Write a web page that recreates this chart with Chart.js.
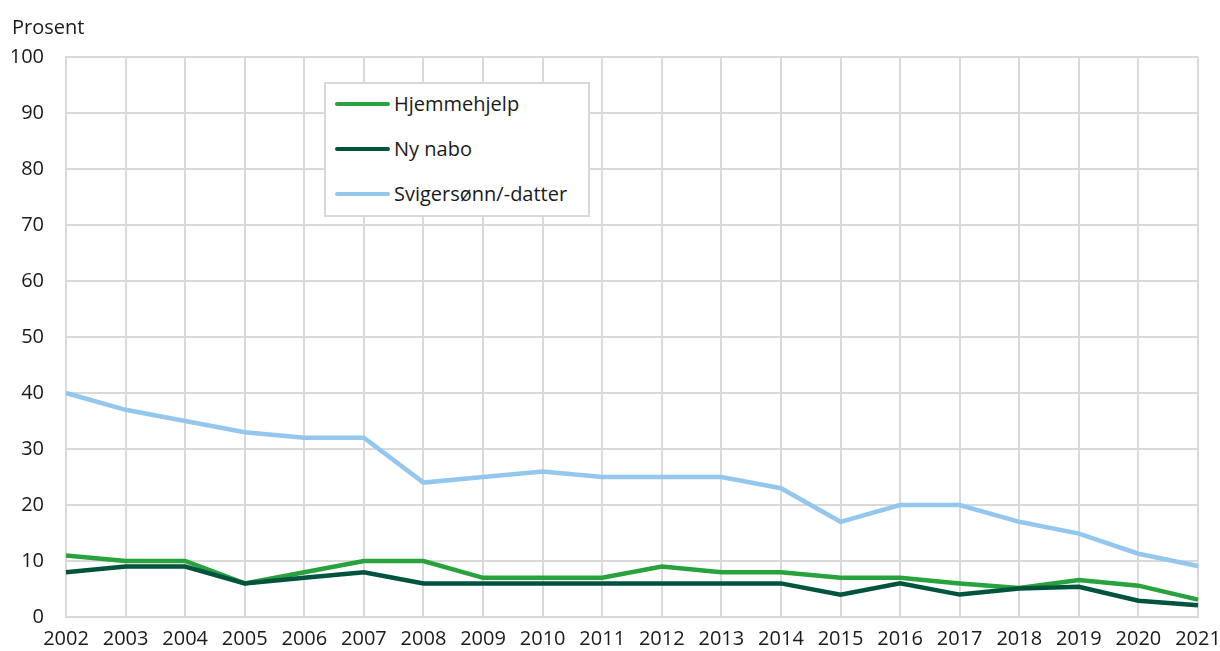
<!DOCTYPE html>
<html lang="no">
<head>
    <meta charset="UTF-8">
    <title>Prosent</title>
    <script src="https://cdn.jsdelivr.net/npm/chart.js"></script>
    <style>
        body { margin: 0; background: #fff; font-family: "Open Sans", sans-serif; }
        #wrap { position: relative; width: 1220px; height: 651px; }
        #legend {
            position: absolute; left: 324px; top: 82px; width: 262px; height: 131px;
            border: 2px solid #d9d9d9; background: #fff; box-sizing: content-box; overflow: hidden;
        }
        #legend .inner { margin-top: -3px; }
        .item { display: flex; align-items: center; height: 45px; margin-left: 9px; font-size: 20px; color: #1a1a1a; }
        .swatch { width: 55px; height: 4px; border-radius: 2px; margin-right: 4px; }
    </style>
</head>
<body>
<div id="wrap">
    <canvas id="chart"></canvas>
    <div id="legend"><div class="inner" id="legendItems"></div></div>
</div>

<script>
    const years = ["2002", "2003", "2004", "2005", "2006", "2007", "2008", "2009", "2010", "2011",
        "2012", "2013", "2014", "2015", "2016", "2017", "2018", "2019", "2020", "2021"];
    const hjemmehjelp = [11, 10, 10, 6, 8, 10, 10, 7, 7, 7, 9, 8, 8, 7, 7, 6, 5.2, 6.6, 5.6, 3.1];
    const nyNabo = [8, 9, 9, 6, 7, 8, 6, 6, 6, 6, 6, 6, 6, 4, 6, 4, 5.1, 5.4, 2.9, 2.1];
    const svigers = [40, 37, 35, 33, 32, 32, 24, 25, 26, 25, 25, 25, 23, 17, 20, 20, 17, 14.9, 11.3, 9.1];
    const seriesNames = ["Hjemmehjelp", "Ny nabo", "Svigersønn/-datter"];
    const seriesColors = ["#27a23c", "#00543e", "#94c7ee"];

    const font = { family: "'Open Sans', sans-serif", size: 20, weight: 'normal' };
    const gridColor = '#d9d9d9';

    const datasets = [hjemmehjelp, nyNabo, svigers].map((vals, i) => ({
        label: seriesNames[i],
        data: vals,
        borderColor: seriesColors[i],
        backgroundColor: seriesColors[i],
        borderWidth: 4.5,
        pointRadius: 0,
        tension: 0
    }));

    // draw svigers first so green lines sit on top
    datasets.reverse();

    const legendItems = document.getElementById('legendItems');
    seriesNames.forEach((name, i) => {
        legendItems.innerHTML += `<div class="item"><span class="swatch" style="background:${seriesColors[i]}"></span>${name}</div>`;
    });

    new Chart(document.getElementById('chart'), {
        type: 'line',
        data: { labels: years, datasets: datasets },
        options: {
            responsive: true,
            maintainAspectRatio: false,
            animation: false,
            layout: { padding: { left: 12, right: 22, top: 0, bottom: 0 } },
            plugins: {
                legend: { display: false },
                tooltip: { enabled: false },
                title: {
                    display: true,
                    text: 'Prosent',
                    align: 'start',
                    color: '#1a1a1a',
                    font: font,
                    padding: { top: 16, bottom: 17 }
                }
            },
            scales: {
                x: {
                    offset: false,
                    afterFit: (scale) => { scale.height = 34; scale.paddingRight = 0; },
                    grid: { color: gridColor, lineWidth: 2, drawTicks: false },
                    border: { color: gridColor, width: 2 },
                    ticks: { color: '#1a1a1a', font: font, padding: 10, maxRotation: 0, autoSkip: false }
                },
                y: {
                    min: 0,
                    max: 100,
                    afterFit: (scale) => { scale.width = 54; },
                    grid: { color: gridColor, lineWidth: 2, drawTicks: false },
                    border: { color: gridColor, width: 2 },
                    ticks: { stepSize: 10, color: '#1a1a1a', font: font, padding: 22 }
                }
            }
        }
    });
</script>
</body>
</html>
